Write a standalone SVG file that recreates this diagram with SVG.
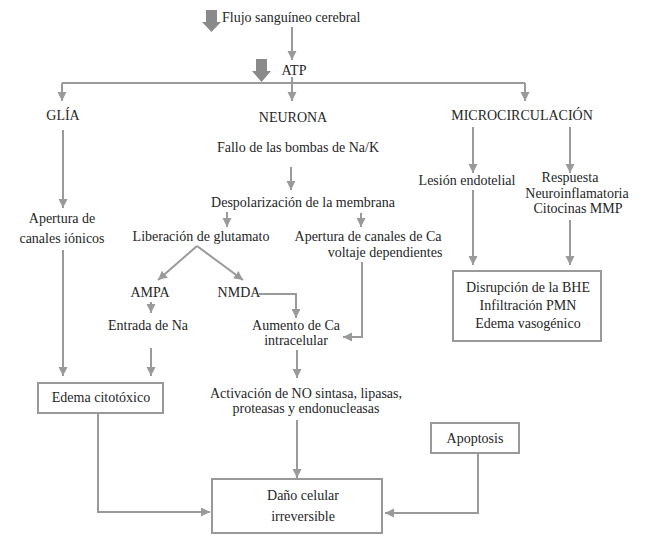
<svg xmlns="http://www.w3.org/2000/svg" width="646" height="536" viewBox="0 0 646 536">
<style>
text{font-family:"Liberation Serif","DejaVu Serif",serif;font-size:14px;fill:#262626;text-anchor:middle}
.l{text-anchor:start}
.box{fill:#fff;stroke:#999;stroke-width:2}
.c{fill:none;stroke:#9a9a9a;stroke-width:2;marker-end:url(#ah)}
.n{fill:none;stroke:#9a9a9a;stroke-width:2}
.blk{fill:#8a8a8a}
</style>
<defs>
<marker id="ah" markerUnits="userSpaceOnUse" markerWidth="10" markerHeight="10" refX="9" refY="4.5" orient="auto">
<path d="M0,0 L9,4.5 L0,9 z" fill="#9a9a9a"/>
</marker>
</defs>
<rect width="646" height="536" fill="#fff"/>
<g id="connectors">
<path class="c" d="M292 27 V60"/>
<path class="n" d="M62 83 H525"/>
<path class="c" d="M62 83 V101"/>
<path class="c" d="M292 77 V101"/>
<path class="c" d="M525 83 V101"/>
<path class="c" d="M63 130 V208"/>
<path class="c" d="M291 167 V190"/>
<path class="c" d="M227 212 V227"/>
<path class="c" d="M361 213 V227"/>
<path class="c" d="M197 246 L158 280"/>
<path class="c" d="M197 246 L243 280"/>
<path class="c" d="M151 302 V313"/>
<path class="c" d="M259 294 H296 V318"/>
<path class="c" d="M362 262 V337 H343"/>
<path class="c" d="M151 348 V376"/>
<path class="c" d="M63 250 V376"/>
<path class="c" d="M297 350 V378"/>
<path class="c" d="M98 413 V512 H210"/>
<path class="c" d="M297 420 V478"/>
<path class="c" d="M478 453 V513 H385"/>
<path class="c" d="M473 127 V173"/>
<path class="c" d="M473 190 V265"/>
<path class="c" d="M570 127 V173"/>
<path class="c" d="M570 220 V265"/>
</g>
<g id="flujo">
<path class="blk" d="M206 10 H217 V22 H221 L211.5 32 L202 22 H206 Z"/>
<text class="l" x="222" y="22">Flujo sanguíneo cerebral</text>
</g>
<g id="atp">
<path class="blk" d="M256 59 H267 V71 H271 L261.5 82 L252 71 H256 Z"/>
<text x="294" y="75">ATP</text>
</g>
<g id="glia"><text x="63" y="120">GLÍA</text></g>
<g id="neurona"><text x="293" y="122">NEURONA</text></g>
<g id="micro"><text x="522" y="120">MICROCIRCULACIÓN</text></g>
<g id="apertura-ionicos"><text x="62" y="223">Apertura de</text><text x="62" y="243">canales iónicos</text></g>
<g id="fallo"><text x="298" y="152">Fallo de las bombas de Na/K</text></g>
<g id="despolarizacion"><text x="303" y="207">Despolarización de la membrana</text></g>
<g id="liberacion"><text x="201" y="241">Liberación de glutamato</text></g>
<g id="apertura-ca"><text x="368" y="241">Apertura de canales de Ca</text><text x="385" y="257">voltaje dependientes</text></g>
<g id="ampa"><text x="150" y="297">AMPA</text></g>
<g id="nmda"><text x="239" y="297">NMDA</text></g>
<g id="entrada"><text x="148" y="330">Entrada de Na</text></g>
<g id="aumento"><text x="296" y="330">Aumento de Ca</text><text x="296" y="345">intracelular</text></g>
<g id="edema-cito"><rect class="box" x="38" y="383" width="125" height="30"/><text x="101" y="402">Edema citotóxico</text></g>
<g id="activacion"><text x="306" y="398">Activación de NO sintasa, lipasas,</text><text x="306" y="413">proteasas y endonucleasas</text></g>
<g id="apoptosis"><rect class="box" x="431" y="423" width="88" height="30"/><text x="475" y="443">Apoptosis</text></g>
<g id="dano"><rect class="box" x="212" y="479" width="170" height="54"/><text x="303" y="500">Daño celular</text><text x="303" y="521">irreversible</text></g>
<g id="lesion"><text x="467" y="185">Lesión endotelial</text></g>
<g id="respuesta"><text x="570" y="182">Respuesta</text><text x="577" y="198">Neuroinflamatoria</text><text x="578" y="213">Citocinas MMP</text></g>
<g id="disrupcion"><rect class="box" x="453" y="271" width="148" height="70"/><text x="528" y="292">Disrupción de la BHE</text><text x="528" y="310">Infiltración PMN</text><text x="528" y="328">Edema vasogénico</text></g>
</svg>
